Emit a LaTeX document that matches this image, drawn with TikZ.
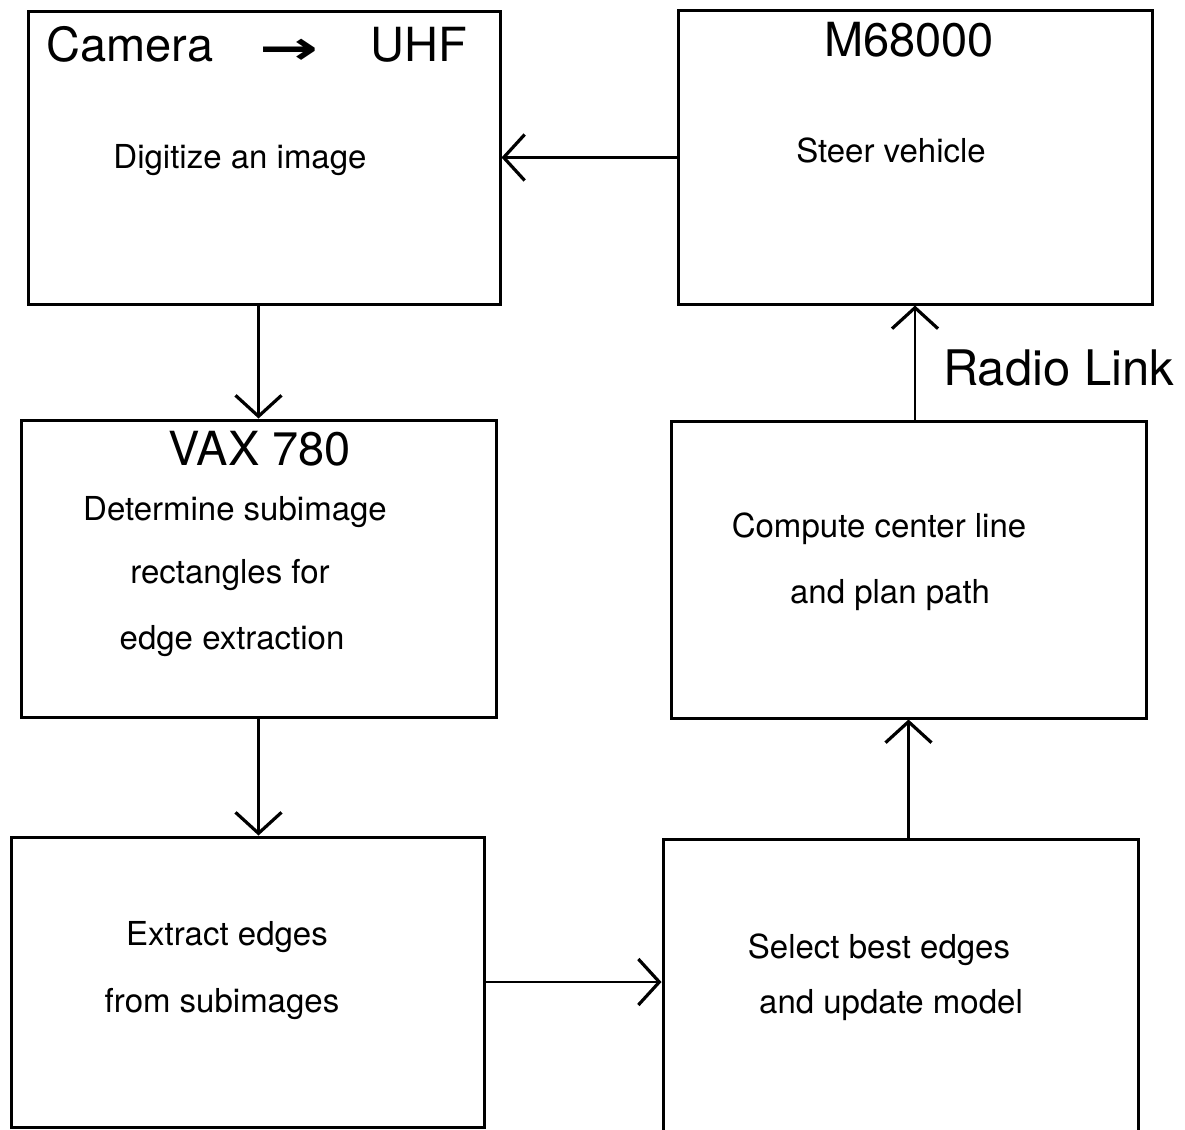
\documentclass[tikz,border=0pt]{standalone}
\usepackage{fontspec}
\setmainfont{TeX Gyre Heros}
\newfontfamily\arrowfont{DejaVu Sans}
\usetikzlibrary{arrows.meta}
\begin{document}
\begin{tikzpicture}[x=1pt,y=-1pt,
  box/.style={draw,line width=3pt,inner sep=0pt,rectangle},
  arr/.style={line width=2.8pt,-{Straight Barb[length=21pt,width=46pt,line width=3.2pt]}},
  big/.style={inner sep=0pt,font=\fontsize{47}{52}\selectfont},
  small/.style={inner sep=0pt,font=\fontsize{33}{38}\selectfont}]
\useasboundingbox (0,0) rectangle (1185,1129);
\fill[white] (0,0) rectangle (1185,1129);
% boxes
\node[box,minimum width=472pt,minimum height=292pt] (b1) at (264,158) {};
\node[box,minimum width=474pt,minimum height=293pt] (b2) at (915,157.5) {};
\node[box,minimum width=475pt,minimum height=297pt] (b3) at (258.5,568.5) {};
\node[box,minimum width=475pt,minimum height=297pt] (b4) at (908.5,569.5) {};
\node[box,minimum width=473pt,minimum height=290pt] (b5) at (247.5,982) {};
\node[box,minimum width=475pt,minimum height=296pt] (b6) at (900.5,987) {};
% texts
\node[big,anchor=base west] (t1) at (46,62) {Camera\hspace{46pt}\raisebox{-3pt}{\scalebox{1.5}[1]{\arrowfont\bfseries →}}\hspace{52pt}UHF};
\node[small,anchor=base] (t2) at (240,168) {Digitize an image};
\node[big,anchor=base] (t3) at (909,57) {M68000};
\node[small,anchor=base] (t4) at (891,162) {Steer vehicle};
\node[big,anchor=base] (t5) at (260,465) {VAX 780};
\node[small,anchor=base] (t6) at (235,520) {Determine subimage};
\node[small,anchor=base] (t7) at (230,583) {rectangles for};
\node[small,anchor=base] (t8) at (232,649) {edge extraction};
\node[small,anchor=base] (t9) at (879,537) {Compute center line};
\node[small,anchor=base] (t10) at (890,603) {and plan path};
\node[small,anchor=base] (t11) at (227,945) {Extract edges};
\node[small,anchor=base] (t12) at (222,1012) {from subimages};
\node[small,anchor=base] (t13) at (879,958) {Select best edges};
\node[small,anchor=base] (t14) at (891,1013) {and update model};
\node[big,anchor=base west,font=\fontsize{49}{54}\selectfont] (t15) at (943,385) {Radio Link};
% connectors
\draw[arr] (b2.west) -- (b1.east |- b2.west);
\draw[arr] (b1.south -| b3.north) -- (b3.north);
\draw[arr] (b3.south) -- (b3.south |- b5.north);
\draw[arr] (b5.east) -- (b6.west |- b5.east);
\draw[arr] (b6.north -| b4.south) -- (b4.south);
\draw[arr] (b4.north -| b2.south) -- (b2.south);
\end{tikzpicture}
\end{document}
